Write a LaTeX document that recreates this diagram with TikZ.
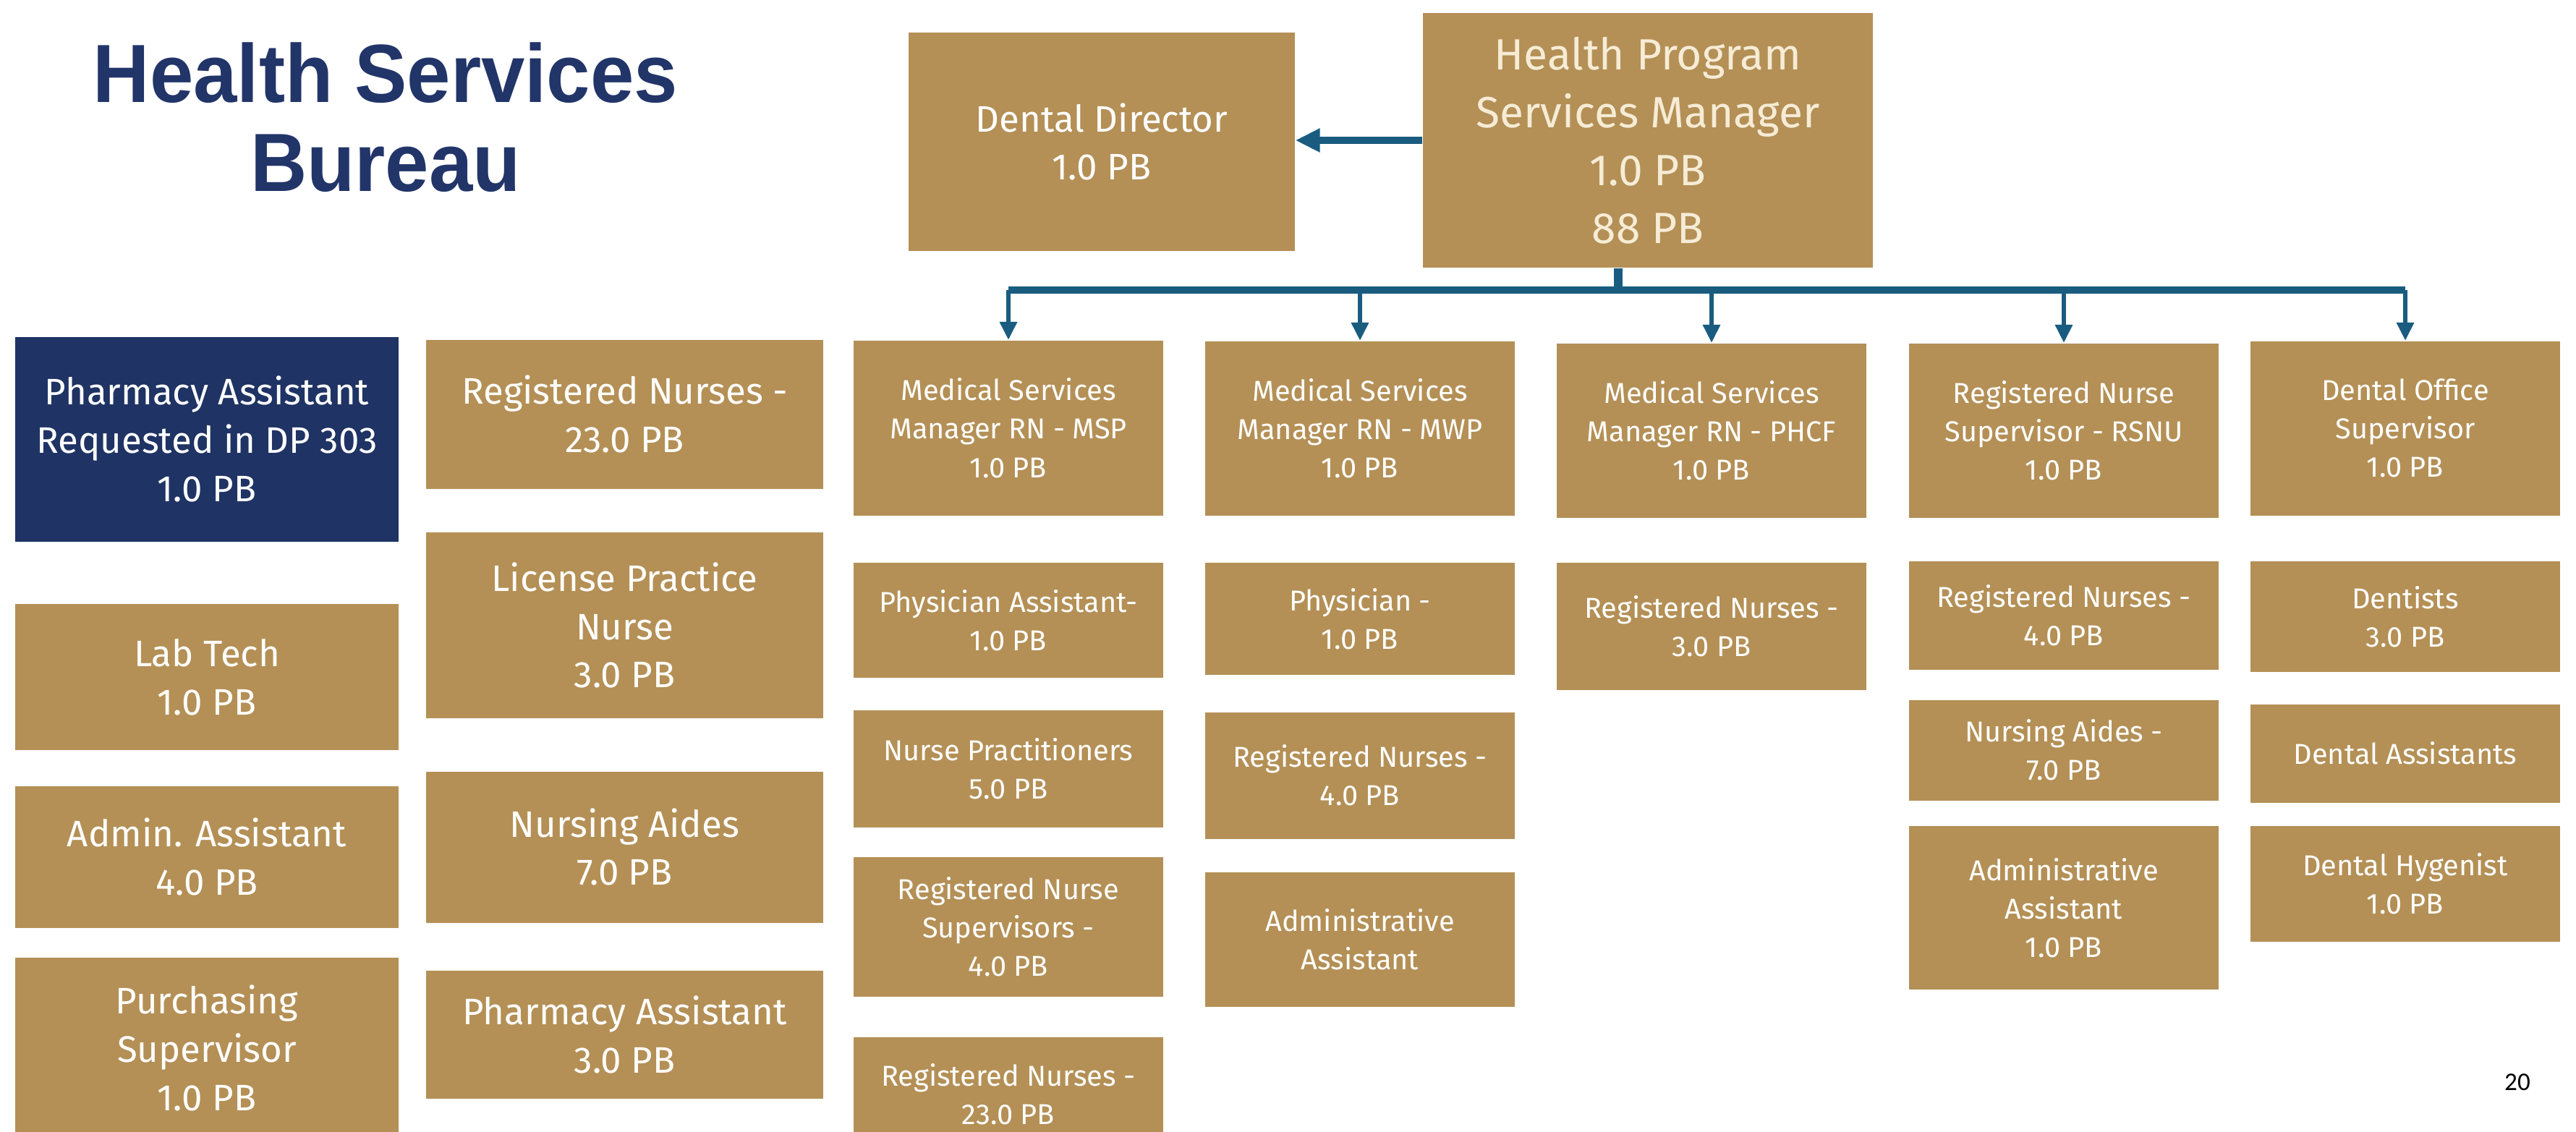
\documentclass[tikz,border=0pt]{standalone}
\usepackage{fontspec}
\setmainfont{Fira Sans}
\newfontfamily\titlefont[FakeStretch=0.95]{Liberation Sans}
\newfontfamily\numfont{Carlito}
\usetikzlibrary{positioning, arrows.meta}
\definecolor{gold}{RGB}{180,144,86}
\definecolor{navybox}{RGB}{31,51,100}
\definecolor{titleblue}{RGB}{34,53,105}
\definecolor{linkblue}{RGB}{25,92,128}
\definecolor{cream}{RGB}{246,236,214}

\begin{document}
\begin{tikzpicture}[node distance={0.5cm},
    box/.style = {fill=gold, text=white, align=center, inner sep=0pt},
    big/.style = {box, font=\fontsize{14.5}{19}\selectfont},
    small/.style = {box, minimum width=4.28cm, font=\fontsize{11.3}{15.1}\selectfont},
    bus/.style = {draw=linkblue, line width=3.1pt},
    drop/.style = {draw=linkblue, line width=1.7pt, -{Triangle[length=2.5mm, width=2.3mm]}}]
    \useasboundingbox (0,0) rectangle (35.61,-15.65);

    % title
    \node[font=\titlefont\bfseries\fontsize{32.5}{35}\selectfont, text=titleblue, align=center, inner sep=0pt, anchor=north] (title) at (5.33,-0.58) {Health Services\\Bureau};

    % left columns
    \node[big, fill=navybox, minimum width=5.3cm, minimum height=2.83cm, anchor=north] (pharmreq) at (2.86,-4.65) {Pharmacy Assistant\\Requested in DP 303\\1.0 PB};
    \node[big, minimum width=5.3cm, minimum height=2.02cm] (labtech) [below=0.85cm of pharmreq] {Lab Tech\\1.0 PB};
    \node[big, minimum width=5.3cm, minimum height=1.96cm] (adminasst) [below=0.48cm of labtech] {Admin. Assistant\\4.0 PB};
    \node[big, minimum width=5.3cm, minimum height=2.5cm] (purchsup) [below=0.40cm of adminasst] {Purchasing\\Supervisor\\1.0 PB};

    \node[big, minimum width=5.49cm, minimum height=2.06cm, anchor=north] (nurses) at (8.635,-4.69) {Registered Nurses -\\23.0 PB};
    \node[big, minimum width=5.49cm, minimum height=2.57cm] (lpn) [below=0.59cm of nurses] {License Practice\\Nurse\\3.0 PB};
    \node[big, minimum width=5.49cm, minimum height=2.09cm] (aides) [below=0.72cm of lpn] {Nursing Aides\\7.0 PB};
    \node[big, minimum width=5.49cm, minimum height=1.77cm] (pharmasst) [below=0.65cm of aides] {Pharmacy Assistant\\3.0 PB};

    % top of the chart
    \node[big, minimum width=5.34cm, minimum height=3.02cm, font=\fontsize{14.5}{18.8}\selectfont] (dental) at (15.23,-1.96) {Dental Director\\1.0 PB};
    \node[box, text=cream, minimum width=6.22cm, minimum height=3.52cm, font=\fontsize{17.2}{22.8}\selectfont] (hpsm) at (22.78,-1.94) {Health Program\\Services Manager\\1.0 PB\\88 PB};

    % managers
    \node[small, minimum height=2.42cm, anchor=north] (msp) at (13.94,-4.70) {Medical Services\\Manager RN - MSP\\1.0 PB};
    \node[small, minimum height=2.41cm, anchor=north] (mwp) at (18.80,-4.71) {Medical Services\\Manager RN - MWP\\1.0 PB};
    \node[small, minimum height=2.41cm, anchor=north] (phcf) at (23.66,-4.74) {Medical Services\\Manager RN - PHCF\\1.0 PB};
    \node[small, minimum height=2.41cm, anchor=north] (rsnu) at (28.53,-4.74) {Registered Nurse\\Supervisor - RSNU\\1.0 PB};
    \node[small, minimum height=2.41cm, anchor=north] (dos) at (33.25,-4.71) {Dental Office\\Supervisor\\1.0 PB};

    % MSP staff
    \node[small, minimum height=1.59cm] (physasst) [below=0.64cm of msp] {Physician Assistant-\\1.0 PB};
    \node[small, minimum height=1.62cm] (practitioners) [below=0.43cm of physasst] {Nurse Practitioners\\5.0 PB};
    \node[small, minimum height=1.93cm] (rnsup) [below=0.40cm of practitioners] {Registered Nurse\\Supervisors -\\4.0 PB};
    \node[small, minimum height=1.57cm] (mspnurses) [below=0.55cm of rnsup] {Registered Nurses -\\23.0 PB};

    % MWP staff
    \node[small, minimum height=1.55cm] (physician) [below=0.64cm of mwp] {Physician -\\1.0 PB};
    \node[small, minimum height=1.75cm] (mwpnurses) [below=0.50cm of physician] {Registered Nurses -\\4.0 PB};
    \node[small, minimum height=1.86cm] (mwpadmin) [below=0.45cm of mwpnurses] {Administrative\\Assistant};

    % PHCF staff
    \node[small, minimum height=1.76cm] (phcfnurses) [below=0.61cm of phcf] {Registered Nurses -\\3.0 PB};

    % RSNU staff
    \node[small, minimum height=1.50cm] (rsnunurses) [below=0.59cm of rsnu] {Registered Nurses -\\4.0 PB};
    \node[small, minimum height=1.39cm] (rsnuaides) [below=0.40cm of rsnunurses] {Nursing Aides -\\7.0 PB};
    \node[small, minimum height=2.26cm] (rsnuadmin) [below=0.34cm of rsnuaides] {Administrative\\Assistant\\1.0 PB};

    % dental staff
    \node[small, minimum height=1.53cm] (dentists) [below=0.62cm of dos] {Dentists\\3.0 PB};
    \node[small, minimum height=1.36cm] (dentasst) [below=0.43cm of dentists] {Dental Assistants};
    \node[small, minimum height=1.60cm] (hygenist) [below=0.31cm of dentasst] {Dental Hygenist\\1.0 PB};

    % connectors
    \draw[linkblue, line width=2.85pt, -{Triangle[length=3.4mm, width=3.1mm]}] (hpsm.west) -- (hpsm.west -| dental.east);
    \coordinate (junction) at (22.37,-4.01);
    \draw[bus, line width=3.4pt] (junction |- hpsm.south) -- (junction);
    \draw[bus] (junction -| msp) -- (junction -| dos);
    \draw[drop] (junction -| msp) -- (msp.north);
    \draw[drop] (junction -| mwp) -- (mwp.north);
    \draw[drop] (junction -| phcf) -- (phcf.north);
    \draw[drop] (junction -| rsnu) -- (rsnu.north);
    \draw[drop] (junction -| dos) -- (dos.north);

    % page number
    \node[font=\numfont\fontsize{10}{12}\selectfont, anchor=base] (pagenum) at (34.80,-15.07) {20};
\end{tikzpicture}
\end{document}
